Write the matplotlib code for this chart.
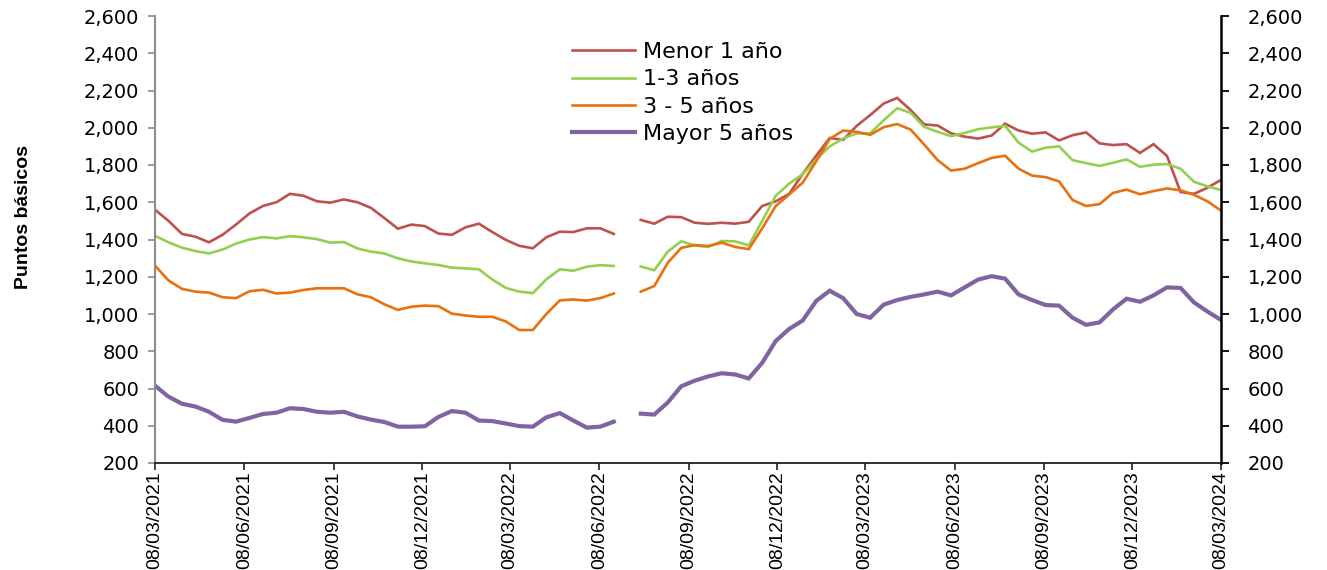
import numpy as np
import pandas as pd
import matplotlib
matplotlib.use('Agg')
import matplotlib.pyplot as plt
import matplotlib.dates as mdates
from matplotlib.ticker import FuncFormatter

nan = np.nan

# fechas (quincenal aprox.), con hueco jul-2022
fechas = pd.date_range('2021-03-08', '2024-03-08', periods=80)

menor_1 = [1560, 1500, 1430, 1415, 1385, 1425, 1480, 1540, 1580, 1600,
           1645, 1635, 1605, 1598, 1615, 1600, 1570, 1515, 1458, 1480,
           1472, 1432, 1425, 1465, 1485, 1440, 1398, 1366, 1353, 1412,
           1442, 1440, 1460, 1460, 1430, nan, 1505, 1485, 1522, 1520,
           1490, 1484, 1490, 1485, 1495, 1580, 1605, 1645, 1752, 1850,
           1945, 1935, 2010, 2068, 2130, 2160, 2095, 2018, 2012, 1970,
           1952, 1942, 1958, 2022, 1985, 1968, 1975, 1932, 1960, 1975,
           1916, 1907, 1912, 1865, 1912, 1848, 1655, 1645, 1678, 1720]

de_1_a_3 = [1420, 1385, 1356, 1338, 1325, 1346, 1378, 1400, 1413, 1406,
            1418, 1412, 1402, 1383, 1386, 1352, 1335, 1325, 1299, 1282,
            1272, 1263, 1249, 1245, 1240, 1185, 1140, 1120, 1112, 1186,
            1240, 1232, 1254, 1262, 1258, nan, 1255, 1235, 1335, 1390,
            1368, 1360, 1392, 1390, 1368, 1500, 1635, 1700, 1750, 1830,
            1900, 1942, 1970, 1970, 2040, 2105, 2080, 2005, 1978, 1955,
            1972, 1992, 2002, 2010, 1920, 1872, 1893, 1900, 1826, 1810,
            1795, 1812, 1830, 1790, 1802, 1805, 1780, 1710, 1685, 1666]

de_3_a_5 = [1260, 1180, 1135, 1120, 1115, 1090, 1085, 1122, 1130, 1110,
            1115, 1129, 1138, 1138, 1138, 1106, 1090, 1052, 1022, 1039,
            1045, 1042, 1002, 992, 985, 985, 960, 914, 914, 1000,
            1073, 1078, 1072, 1085, 1110, nan, 1120, 1150, 1275, 1355,
            1370, 1365, 1383, 1360, 1348, 1460, 1580, 1642, 1705, 1820,
            1940, 1985, 1978, 1962, 2003, 2020, 1990, 1910, 1826, 1770,
            1780, 1810, 1838, 1850, 1780, 1743, 1735, 1712, 1612, 1580,
            1590, 1650, 1668, 1643, 1660, 1674, 1664, 1640, 1605, 1555]

mayor_5 = [615, 556, 518, 503, 475, 432, 422, 442, 463, 470,
           494, 490, 475, 470, 475, 450, 433, 420, 395, 395,
           397, 447, 479, 470, 428, 425, 412, 398, 395, 445,
           468, 428, 390, 395, 422, nan, 465, 460, 525, 612,
           642, 665, 682, 675, 654, 738, 855, 920, 965, 1070,
           1125, 1085, 1000, 980, 1050, 1075, 1092, 1105, 1120, 1100,
           1143, 1185, 1203, 1190, 1105, 1075, 1048, 1045, 980, 942,
           955, 1025, 1082, 1066, 1100, 1143, 1140, 1062, 1013, 968]

series = [("Menor 1 año", menor_1, '#C0504D', 1.9),
          ("1-3 años", de_1_a_3, '#92D050', 1.9),
          ("3 - 5 años", de_3_a_5, '#E8700F', 1.9),
          ("Mayor 5 años", mayor_5, '#8064A2', 3.0)]

fig = plt.figure(figsize=(13.27, 5.70), dpi=100)
ax = fig.add_axes([155/1327., 1 - 463/570., (1221-155)/1327., (463-16)/570.])

for nombre, vals, col, lw in series:
    ax.plot(fechas, vals, color=col, lw=lw, label=nombre, solid_joinstyle='miter')

ax.set_xlim(pd.Timestamp('2021-03-08'), pd.Timestamp('2024-03-08'))
ax.set_ylim(200, 2600)
yt = np.arange(200, 2601, 200)
ax.set_yticks(yt)
fmt = FuncFormatter(lambda v, p: '{:,}'.format(int(v)))
ax.yaxis.set_major_formatter(fmt)

xt = pd.date_range('2021-03-08', '2024-03-08', freq=pd.DateOffset(months=3))
ax.set_xticks(xt)
ax.xaxis.set_major_formatter(mdates.DateFormatter('%d/%m/%Y'))
for lab in ax.get_xticklabels():
    lab.set_rotation(90)
    lab.set_fontfamily('Liberation Sans')
    lab.set_fontsize(14)

ax.spines['top'].set_visible(False)
ax.spines['right'].set_visible(False)
ax.spines['left'].set_color('#8c8c8c')
ax.spines['left'].set_linewidth(1.5)
ax.spines['bottom'].set_color('#202020')
ax.spines['bottom'].set_linewidth(1.3)
ax.tick_params(axis='y', direction='out', length=5, width=1.2, color='#8c8c8c', pad=6.5, labelsize=14)
ax.tick_params(axis='x', direction='out', length=5, width=1.2, color='#202020', pad=1)
for lab in ax.get_yticklabels():
    lab.set_fontfamily('DejaVu Sans')

# eje derecho
ax2 = ax.twinx()
ax2.set_ylim(200, 2600)
ax2.set_yticks(yt)
ax2.yaxis.set_major_formatter(fmt)
for s in ['top', 'left', 'bottom']:
    ax2.spines[s].set_visible(False)
ax2.spines['right'].set_color('black')
ax2.spines['right'].set_linewidth(1.8)
ax2.tick_params(axis='y', direction='out', length=6, width=1.3, color='black', pad=13, labelsize=14)
for lab in ax2.get_yticklabels():
    lab.set_fontfamily('DejaVu Sans')

fig.text(24/1327., 1 - 217/570., 'Puntos básicos', rotation=90, ha='center', va='center',
         fontsize=14, fontweight='bold', family='Liberation Sans')

leg = ax.legend(loc='upper left', bbox_to_anchor=(572/1327., 1 - 42/570.),
                bbox_transform=fig.transFigure, frameon=False,
                prop={'family': 'DejaVu Sans', 'size': 16},
                handlelength=2.85, handletextpad=0.36, labelspacing=0.33,
                borderpad=0, borderaxespad=0)

fig.savefig('out.png', dpi=100)
